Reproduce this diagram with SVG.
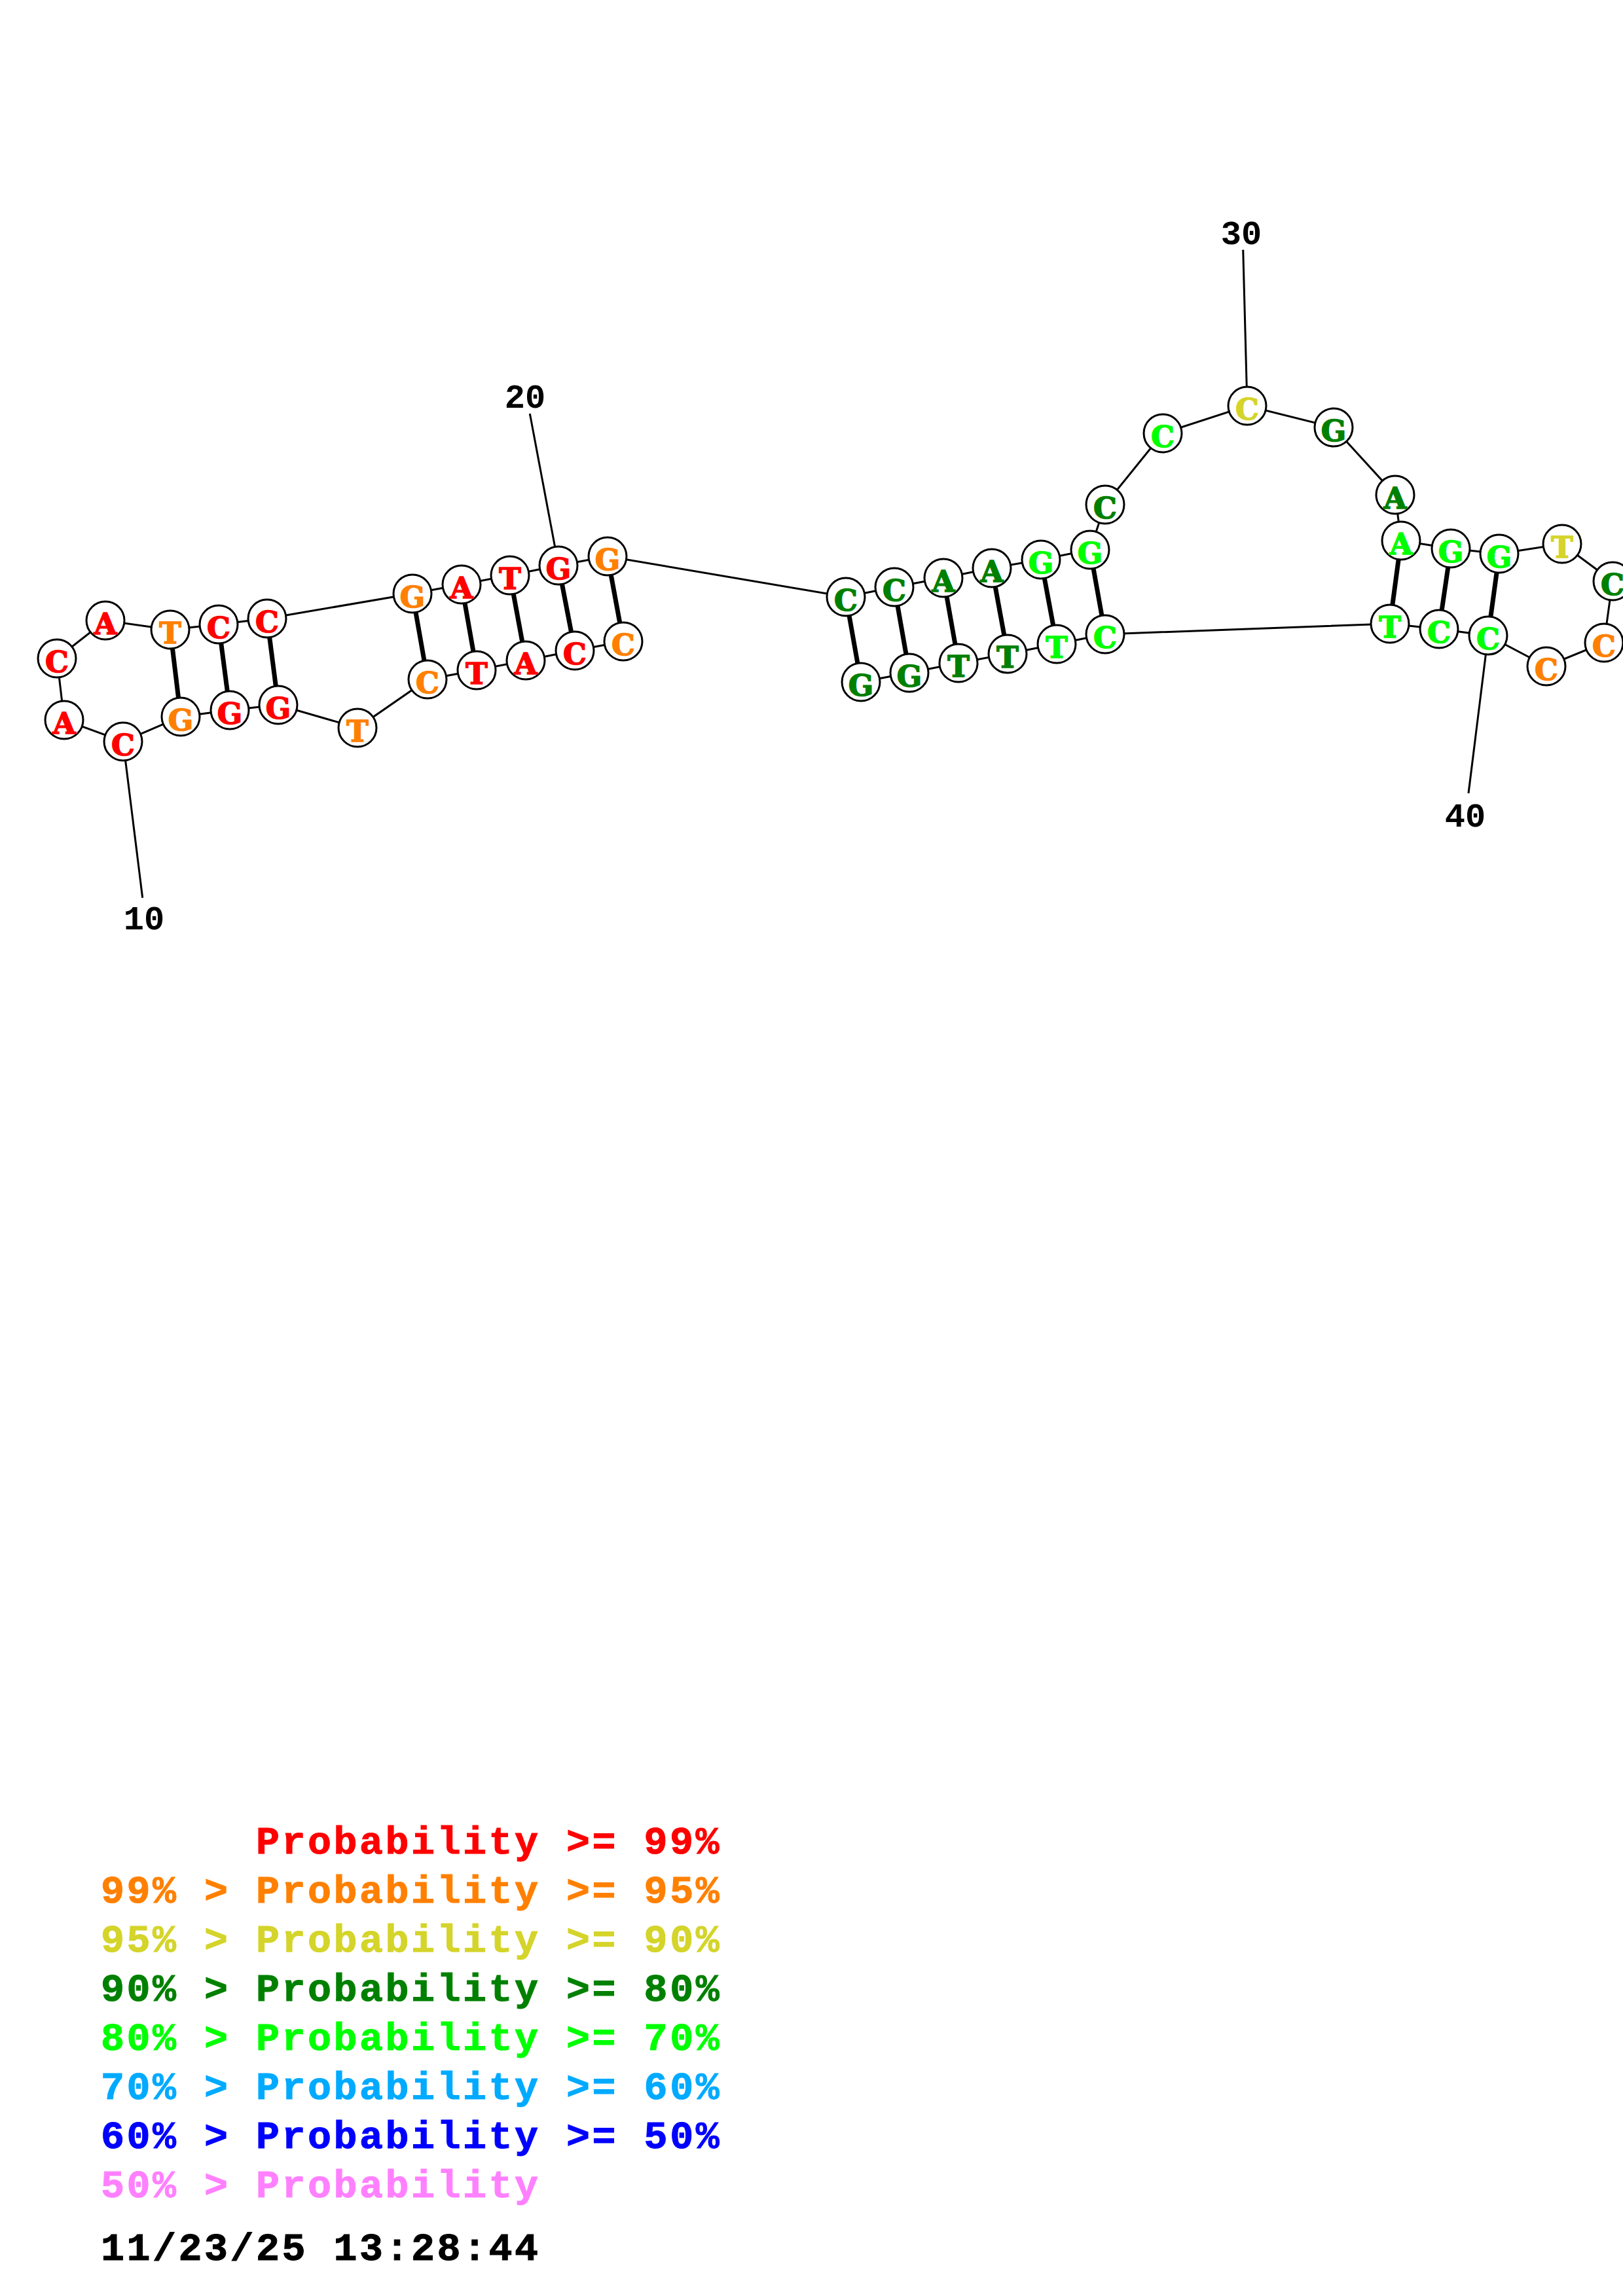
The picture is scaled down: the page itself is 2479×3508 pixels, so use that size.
<svg xmlns="http://www.w3.org/2000/svg" width="2479" height="3508" viewBox="0 0 2479 3508">
<style>
.bg{fill:#fff}
.bb{fill:none;stroke:#000;stroke-width:3}
.bp{stroke:#000;stroke-width:7}
.tk{stroke:#000;stroke-width:3}
.nt circle{fill:#fff;stroke:#000;stroke-width:3}
.nt text{font-family:"DejaVu Serif",serif;font-weight:bold;font-size:45px;text-anchor:middle;stroke-width:1.6px}
.num{font-family:"Liberation Mono","DejaVu Sans Mono",monospace;font-weight:bold;font-size:52px;text-anchor:middle;fill:#000}
.leg{font-family:"Liberation Mono","DejaVu Sans Mono",monospace;font-weight:bold;font-size:60px;letter-spacing:3.5px;stroke-width:1px}
.r{fill:#ff0000;stroke:#ff0000}.o{fill:#ff8000;stroke:#ff8000}.y{fill:#d4d42a;stroke:#d4d42a}.dg{fill:#008000;stroke:#008000}.lg{fill:#00ff00;stroke:#00ff00}.lb{fill:#00aaff;stroke:#00aaff}.b{fill:#0000ff;stroke:#0000ff}.p{fill:#ff80ff;stroke:#ff80ff}.k{fill:#000;stroke:#000}
</style>
<rect class="bg" x="0" y="0" width="2479" height="3508"/>
<g id="connectors">
<polyline class="bb" points="952,980 878,994 803,1009 728,1024 653,1038 546,1112 425,1077 351,1085 276,1095 188,1133 98,1100 87,1006 161,948 260,962 334,954 408,945 630,907 705,893 779,879 853,864 928,850 1292,912 1366,897 1441,883 1515,868 1590,855 1665,840 1688,771 1776,662 1905,620 2037,653 2131,756 2140,826 2216,838 2290,846 2386,831 2463,888 2450,982 2362,1018 2273,971 2198,961 2123,953 1688,969 1614,984 1539,999 1464,1013 1389,1028 1315,1042"/>
<line class="bp" x1="952" y1="980" x2="928" y2="850"/>
<line class="bp" x1="878" y1="994" x2="853" y2="864"/>
<line class="bp" x1="803" y1="1009" x2="779" y2="879"/>
<line class="bp" x1="728" y1="1024" x2="705" y2="893"/>
<line class="bp" x1="653" y1="1038" x2="630" y2="907"/>
<line class="bp" x1="425" y1="1077" x2="408" y2="945"/>
<line class="bp" x1="351" y1="1085" x2="334" y2="954"/>
<line class="bp" x1="276" y1="1095" x2="260" y2="962"/>
<line class="bp" x1="1292" y1="912" x2="1315" y2="1042"/>
<line class="bp" x1="1366" y1="897" x2="1389" y2="1028"/>
<line class="bp" x1="1441" y1="883" x2="1464" y2="1013"/>
<line class="bp" x1="1515" y1="868" x2="1539" y2="999"/>
<line class="bp" x1="1590" y1="855" x2="1614" y2="984"/>
<line class="bp" x1="1665" y1="840" x2="1688" y2="969"/>
<line class="bp" x1="2140" y1="826" x2="2123" y2="953"/>
<line class="bp" x1="2216" y1="838" x2="2198" y2="961"/>
<line class="bp" x1="2290" y1="846" x2="2273" y2="971"/>
<line class="tk" x1="188" y1="1133" x2="217.7" y2="1371.7"/>
<line class="tk" x1="853" y1="864" x2="809.3" y2="632"/>
<line class="tk" x1="1905" y1="620" x2="1898.7" y2="381.6"/>
<line class="tk" x1="2273" y1="971" x2="2243" y2="1212"/>
</g>
<g id="n1" class="nt"><circle cx="952" cy="980" r="29"/><text class="o" x="952" y="1001">C</text></g>
<g id="n2" class="nt"><circle cx="878" cy="994" r="29"/><text class="r" x="878" y="1015">C</text></g>
<g id="n3" class="nt"><circle cx="803" cy="1009" r="29"/><text class="r" x="803" y="1030">A</text></g>
<g id="n4" class="nt"><circle cx="728" cy="1024" r="29"/><text class="r" x="728" y="1045">T</text></g>
<g id="n5" class="nt"><circle cx="653" cy="1038" r="29"/><text class="o" x="653" y="1059">C</text></g>
<g id="n6" class="nt"><circle cx="546" cy="1112" r="29"/><text class="o" x="546" y="1133">T</text></g>
<g id="n7" class="nt"><circle cx="425" cy="1077" r="29"/><text class="r" x="425" y="1098">G</text></g>
<g id="n8" class="nt"><circle cx="351" cy="1085" r="29"/><text class="r" x="351" y="1106">G</text></g>
<g id="n9" class="nt"><circle cx="276" cy="1095" r="29"/><text class="o" x="276" y="1116">G</text></g>
<g id="n10" class="nt"><circle cx="188" cy="1133" r="29"/><text class="r" x="188" y="1154">C</text></g>
<g id="n11" class="nt"><circle cx="98" cy="1100" r="29"/><text class="r" x="98" y="1121">A</text></g>
<g id="n12" class="nt"><circle cx="87" cy="1006" r="29"/><text class="r" x="87" y="1027">C</text></g>
<g id="n13" class="nt"><circle cx="161" cy="948" r="29"/><text class="r" x="161" y="969">A</text></g>
<g id="n14" class="nt"><circle cx="260" cy="962" r="29"/><text class="o" x="260" y="983">T</text></g>
<g id="n15" class="nt"><circle cx="334" cy="954" r="29"/><text class="r" x="334" y="975">C</text></g>
<g id="n16" class="nt"><circle cx="408" cy="945" r="29"/><text class="r" x="408" y="966">C</text></g>
<g id="n17" class="nt"><circle cx="630" cy="907" r="29"/><text class="o" x="630" y="928">G</text></g>
<g id="n18" class="nt"><circle cx="705" cy="893" r="29"/><text class="r" x="705" y="914">A</text></g>
<g id="n19" class="nt"><circle cx="779" cy="879" r="29"/><text class="r" x="779" y="900">T</text></g>
<g id="n20" class="nt"><circle cx="853" cy="864" r="29"/><text class="r" x="853" y="885">G</text></g>
<g id="n21" class="nt"><circle cx="928" cy="850" r="29"/><text class="o" x="928" y="871">G</text></g>
<g id="n22" class="nt"><circle cx="1292" cy="912" r="29"/><text class="dg" x="1292" y="933">C</text></g>
<g id="n23" class="nt"><circle cx="1366" cy="897" r="29"/><text class="dg" x="1366" y="918">C</text></g>
<g id="n24" class="nt"><circle cx="1441" cy="883" r="29"/><text class="dg" x="1441" y="904">A</text></g>
<g id="n25" class="nt"><circle cx="1515" cy="868" r="29"/><text class="dg" x="1515" y="889">A</text></g>
<g id="n26" class="nt"><circle cx="1590" cy="855" r="29"/><text class="lg" x="1590" y="876">G</text></g>
<g id="n27" class="nt"><circle cx="1665" cy="840" r="29"/><text class="lg" x="1665" y="861">G</text></g>
<g id="n28" class="nt"><circle cx="1688" cy="771" r="29"/><text class="dg" x="1688" y="792">C</text></g>
<g id="n29" class="nt"><circle cx="1776" cy="662" r="29"/><text class="lg" x="1776" y="683">C</text></g>
<g id="n30" class="nt"><circle cx="1905" cy="620" r="29"/><text class="y" x="1905" y="641">C</text></g>
<g id="n31" class="nt"><circle cx="2037" cy="653" r="29"/><text class="dg" x="2037" y="674">G</text></g>
<g id="n32" class="nt"><circle cx="2131" cy="756" r="29"/><text class="dg" x="2131" y="777">A</text></g>
<g id="n33" class="nt"><circle cx="2140" cy="826" r="29"/><text class="lg" x="2140" y="847">A</text></g>
<g id="n34" class="nt"><circle cx="2216" cy="838" r="29"/><text class="lg" x="2216" y="859">G</text></g>
<g id="n35" class="nt"><circle cx="2290" cy="846" r="29"/><text class="lg" x="2290" y="867">G</text></g>
<g id="n36" class="nt"><circle cx="2386" cy="831" r="29"/><text class="y" x="2386" y="852">T</text></g>
<g id="n37" class="nt"><circle cx="2463" cy="888" r="29"/><text class="dg" x="2463" y="909">C</text></g>
<g id="n38" class="nt"><circle cx="2450" cy="982" r="29"/><text class="o" x="2450" y="1003">C</text></g>
<g id="n39" class="nt"><circle cx="2362" cy="1018" r="29"/><text class="o" x="2362" y="1039">C</text></g>
<g id="n40" class="nt"><circle cx="2273" cy="971" r="29"/><text class="lg" x="2273" y="992">C</text></g>
<g id="n41" class="nt"><circle cx="2198" cy="961" r="29"/><text class="lg" x="2198" y="982">C</text></g>
<g id="n42" class="nt"><circle cx="2123" cy="953" r="29"/><text class="lg" x="2123" y="974">T</text></g>
<g id="n43" class="nt"><circle cx="1688" cy="969" r="29"/><text class="lg" x="1688" y="990">C</text></g>
<g id="n44" class="nt"><circle cx="1614" cy="984" r="29"/><text class="lg" x="1614" y="1005">T</text></g>
<g id="n45" class="nt"><circle cx="1539" cy="999" r="29"/><text class="dg" x="1539" y="1020">T</text></g>
<g id="n46" class="nt"><circle cx="1464" cy="1013" r="29"/><text class="dg" x="1464" y="1034">T</text></g>
<g id="n47" class="nt"><circle cx="1389" cy="1028" r="29"/><text class="dg" x="1389" y="1049">G</text></g>
<g id="n48" class="nt"><circle cx="1315" cy="1042" r="29"/><text class="dg" x="1315" y="1063">G</text></g>
<g id="labels">
<text class="num" x="220" y="1420">10</text>
<text class="num" x="802" y="623">20</text>
<text class="num" x="1896" y="373">30</text>
<text class="num" x="2238" y="1263">40</text>
</g>
<g id="legend">
<text class="leg r" x="391" y="2832">Probability &gt;= 99%</text>
<text class="leg o" x="154" y="2907">99% &gt; Probability &gt;= 95%</text>
<text class="leg y" x="154" y="2982">95% &gt; Probability &gt;= 90%</text>
<text class="leg dg" x="154" y="3057">90% &gt; Probability &gt;= 80%</text>
<text class="leg lg" x="154" y="3132">80% &gt; Probability &gt;= 70%</text>
<text class="leg lb" x="154" y="3207">70% &gt; Probability &gt;= 60%</text>
<text class="leg b" x="154" y="3282">60% &gt; Probability &gt;= 50%</text>
<text class="leg p" x="154" y="3357">50% &gt; Probability</text>
<text class="leg k" x="154" y="3453">11/23/25 13:28:44</text>
</g>
</svg>
